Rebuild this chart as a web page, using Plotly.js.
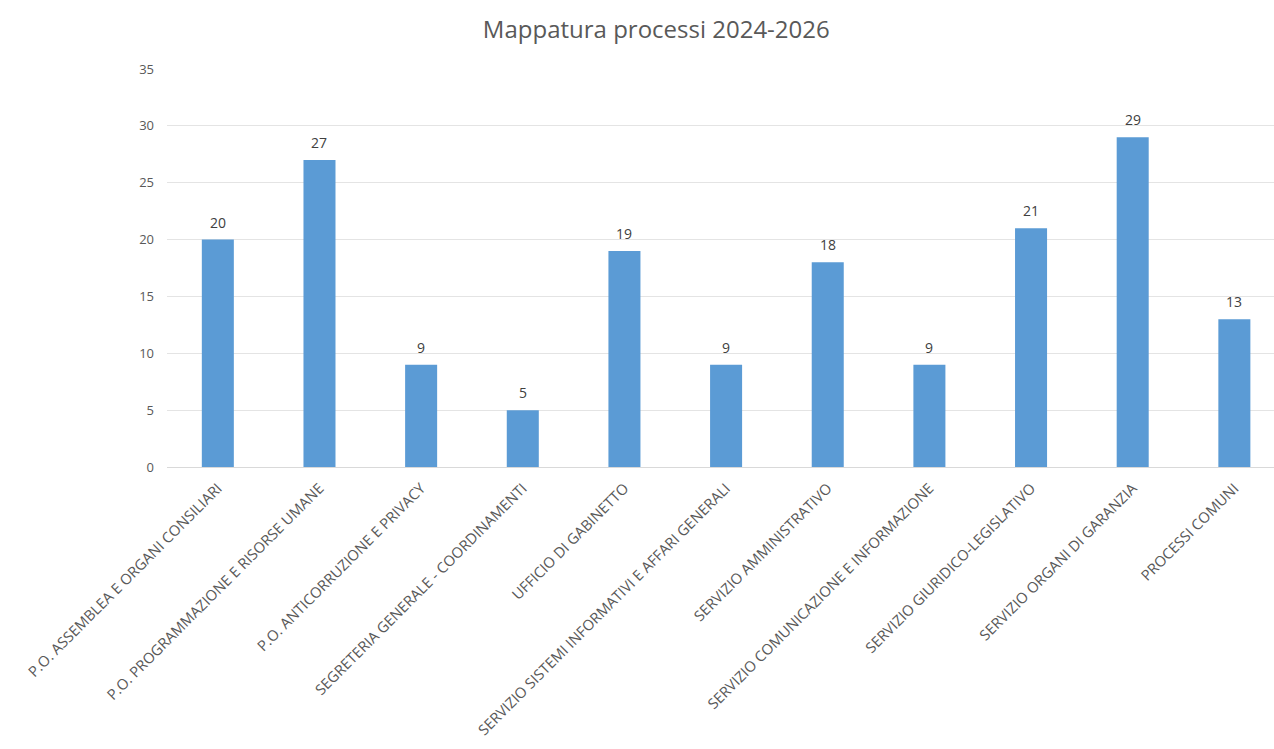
<!DOCTYPE html>
<html>
<head>
<meta charset="utf-8">
<script src="https://cdn.plot.ly/plotly-3.0.1.min.js"></script>
<style>html,body{margin:0;padding:0;background:#fff;}#chart{width:1274px;height:749px;}</style>
</head>
<body>
<div id="chart"></div>
<script>
const categories = [
  "P.O. ASSEMBLEA E ORGANI CONSILIARI",
  "P.O. PROGRAMMAZIONE E RISORSE UMANE",
  "P.O. ANTICORRUZIONE E PRIVACY",
  "SEGRETERIA GENERALE - COORDINAMENTI",
  "UFFICIO DI GABINETTO",
  "SERVIZIO SISTEMI INFORMATIVI E AFFARI GENERALI",
  "SERVIZIO AMMINISTRATIVO",
  "SERVIZIO COMUNICAZIONE E INFORMAZIONE",
  "SERVIZIO GIURIDICO-LEGISLATIVO",
  "SERVIZIO ORGANI DI GARANZIA",
  "PROCESSI COMUNI"
];
const values = [20, 27, 9, 5, 19, 9, 18, 9, 21, 29, 13];
const yTicks = [0, 5, 10, 15, 20, 25, 30, 35];

const font = "'Open Sans', 'Noto Sans', sans-serif";
const trace = {
  type: "bar",
  x: categories,
  y: values,
  marker: {color: "#5B9BD5"},
  hoverinfo: "x+y"
};
const annotations = categories.map((c, i) => ({
  x: c, y: values[i], xref: "x", yref: "y",
  text: String(values[i]), showarrow: false,
  yanchor: "bottom", yshift: 6,
  font: {family: font, size: 14, color: "#404040"}
}));
const layout = {
  width: 1274,
  height: 749,
  margin: {l: 167, r: 0, t: 69, b: 282},
  paper_bgcolor: "#fff",
  plot_bgcolor: "#fff",
  title: {text: "Mappatura processi 2024-2026", xref: "paper", x: 0.442, xanchor: "center", y: 0.96, yanchor: "middle",
          font: {family: font, size: 24, color: "#595959"}},
  bargap: 0.685,
  showlegend: false,
  annotations: annotations,
  xaxis: {
    type: "category",
    range: [-0.5, 10.39],
    tickangle: -45,
    tickfont: {family: font, size: 14.7, color: "#595959"},
    showgrid: false,
    showline: true,
    linecolor: "#d9d9d9",
    linewidth: 1,
    ticks: "",
    ticklabelstandoff: 6,
    automargin: false
  },
  yaxis: {
    range: [0, 35],
    tickvals: yTicks,
    ticktext: yTicks.map(String),
    tickfont: {family: font, size: 13, color: "#595959"},
    showgrid: true,
    gridcolor: "#e4e4e4",
    gridwidth: 1,
    zeroline: false,
    showline: false,
    ticks: "",
    ticklabelstandoff: 12,
    automargin: false
  }
};
Plotly.newPlot("chart", [trace], layout, {displayModeBar: false, staticPlot: true});
</script>
</body>
</html>
